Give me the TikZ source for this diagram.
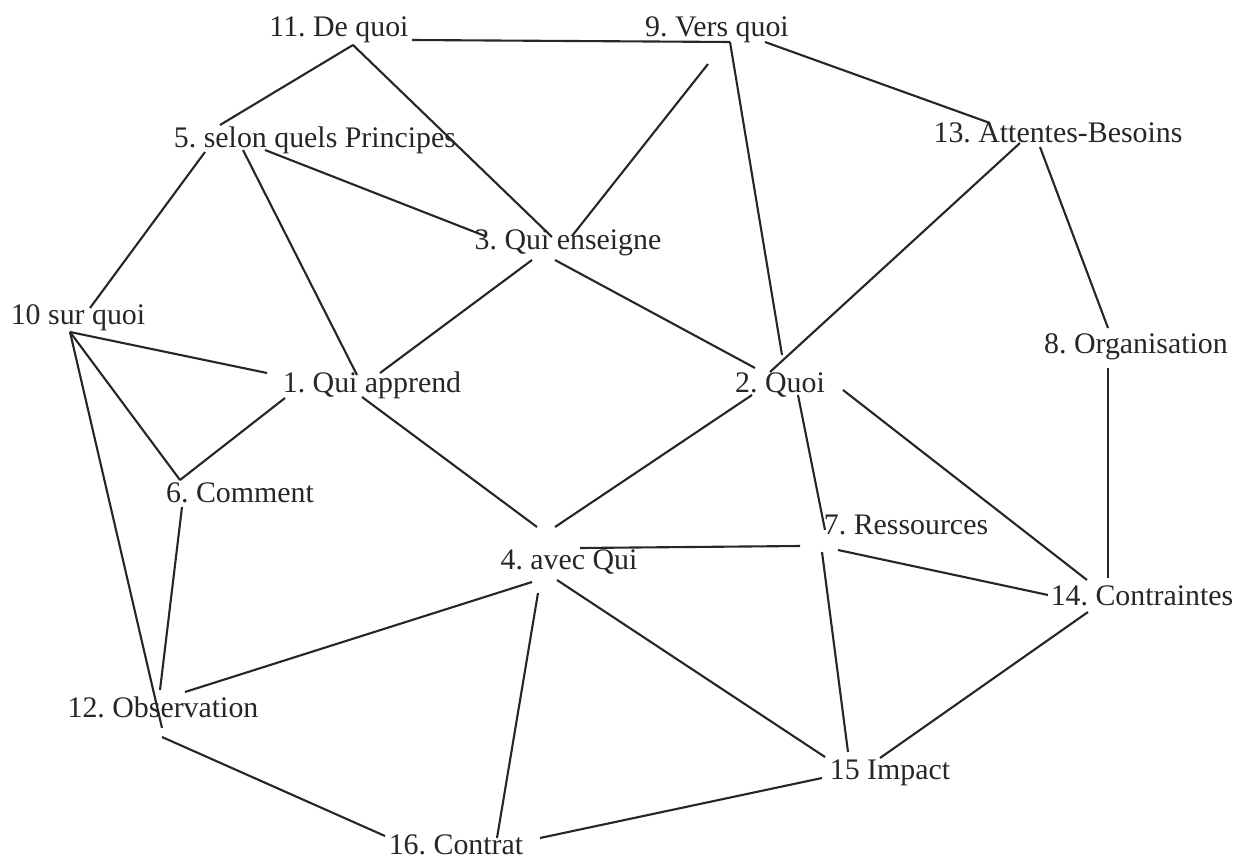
\documentclass[tikz,border=0pt]{standalone}
\usepackage{fontspec}
\setmainfont{Liberation Serif}
\frenchspacing
\begin{document}
\begin{tikzpicture}[x=0.02cm,y=-0.02cm,
  lbl/.style={inner sep=0pt,font=\fontsize{17}{20}\selectfont,text=black!85},
  edge/.style={draw=black!85,line width=1.2pt}]
\useasboundingbox (0,0) rectangle (1247,861);
% labels
\node[lbl] (n11) at (339,30) {11. De quoi};
\node[lbl] (n9) at (717,30) {9. Vers quoi};
\node[lbl] (n5) at (315,140) {5. selon quels Principes};
\node[lbl] (n13) at (1058,133) {13. Attentes-Besoins};
\node[lbl] (n3) at (568,243) {3. Qui enseigne};
\node[lbl] (n10) at (78,318) {10 sur quoi};
\node[lbl] (n8) at (1136,347) {8. Organisation};
\node[lbl] (n1) at (372,385) {1. Qui apprend};
\node[lbl] (n2) at (780,385) {2. Quoi};
\node[lbl] (n6) at (240,493) {6. Comment};
\node[lbl] (n7) at (906,525) {7. Ressources};
\node[lbl] (n4) at (569,562) {4. avec Qui};
\node[lbl] (n14) at (1142,596) {14. Contraintes};
\node[lbl] (n12) at (163,707) {12. Observation};
\node[lbl] (n15) at (890,773) {15 Impact};
\node[lbl] (n16) at (456,845) {16. Contrat};
% connection points
\coordinate (h11a) at (353,45);   \coordinate (h11b) at (412,40);
\coordinate (h9a) at (730,42);    \coordinate (h9b) at (765,42);  \coordinate (h9c) at (708,64);
\coordinate (h5a) at (220,125);   \coordinate (h5b) at (205,152); \coordinate (h5c) at (243,150); \coordinate (h5d) at (265,150);
\coordinate (h3a) at (552,237);   \coordinate (h3b) at (572,236); \coordinate (h3c) at (485,236); \coordinate (h3d) at (532,260); \coordinate (h3e) at (555,260);
\coordinate (h13a) at (990,123);  \coordinate (h13b) at (1020,143); \coordinate (h13c) at (1040,147);
\coordinate (h10) at (70,332);    \coordinate (h10b) at (90,308);
\coordinate (h8a) at (1108,328);  \coordinate (h8b) at (1108,368);
\coordinate (h1a) at (357,375);   \coordinate (h1b) at (380,373); \coordinate (h1c) at (267,373); \coordinate (h1d) at (285,398); \coordinate (h1e) at (362,397);
\coordinate (h2a) at (782,355);   \coordinate (h2b) at (770,372); \coordinate (h2c) at (755,368); \coordinate (h2d) at (752,395); \coordinate (h2e) at (798,395); \coordinate (h2f) at (843,390);
\coordinate (h6a) at (180,480);   \coordinate (h6b) at (182,507);
\coordinate (h7a) at (825,530);   \coordinate (h7b) at (800,546); \coordinate (h7c) at (838,550); \coordinate (h7d) at (822,552);
\coordinate (h4a) at (537,527);   \coordinate (h4b) at (555,527); \coordinate (h4c) at (580,548); \coordinate (h4d) at (532,582); \coordinate (h4e) at (557,580); \coordinate (h4f) at (538,593);
\coordinate (h14a) at (1087,580); \coordinate (h14b) at (1108,578); \coordinate (h14c) at (1048,595); \coordinate (h14d) at (1088,612);
\coordinate (h12a) at (160,690);  \coordinate (h12b) at (162,728); \coordinate (h12c) at (185,692); \coordinate (h12d) at (162,737);
\coordinate (h15a) at (848,752);  \coordinate (h15b) at (825,757); \coordinate (h15c) at (880,758); \coordinate (h15d) at (822,778);
\coordinate (h16a) at (385,836);  \coordinate (h16b) at (497,838); \coordinate (h16c) at (540,838);
% connectors
\draw[edge] (h11b) -- (h9a);
\draw[edge] (h11a) -- (h5a);
\draw[edge] (h11a) -- (h3a);
\draw[edge] (h9b) -- (h13a);
\draw[edge] (h9c) -- (h3b);
\draw[edge] (h9a) -- (h2a);
\draw[edge] (h5b) -- (h10b);
\draw[edge] (h5c) -- (h1a);
\draw[edge] (h5d) -- (h3c);
\draw[edge] (h13b) -- (h2b);
\draw[edge] (h13c) -- (h8a);
\draw[edge] (h3d) -- (h1b);
\draw[edge] (h3e) -- (h2c);
\draw[edge] (h10) -- (h1c);
\draw[edge] (h10) -- (h6a);
\draw[edge] (h10) -- (h12b);
\draw[edge] (h1d) -- (h6a);
\draw[edge] (h1e) -- (h4a);
\draw[edge] (h2d) -- (h4b);
\draw[edge] (h2e) -- (h7a);
\draw[edge] (h2f) -- (h14a);
\draw[edge] (h8b) -- (h14b);
\draw[edge] (h6b) -- (h12a);
\draw[edge] (h7b) -- (h4c);
\draw[edge] (h7c) -- (h14c);
\draw[edge] (h7d) -- (h15a);
\draw[edge] (h4d) -- (h12c);
\draw[edge] (h4e) -- (h15b);
\draw[edge] (h4f) -- (h16b);
\draw[edge] (h14d) -- (h15c);
\draw[edge] (h12d) -- (h16a);
\draw[edge] (h15d) -- (h16c);
\end{tikzpicture}
\end{document}
